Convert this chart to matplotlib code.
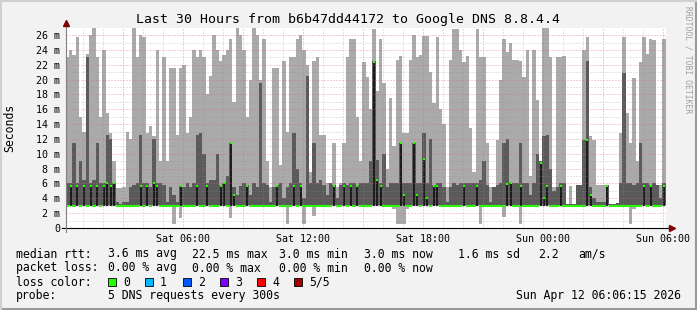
#!/usr/bin/env python
import datetime
import numpy as np
import matplotlib
matplotlib.use("Agg")
import matplotlib.pyplot as plt
from matplotlib.patches import Rectangle

W, H = 697, 310

title = "Last 30 Hours from b6b47dd44172 to Google DNS 8.8.4.4"
start = datetime.datetime(2026, 4, 11, 0, 6, 15)
steps_per_hour = 6   # one value every 10 min

# largest of the 5 pings per step (ms)
ping_max = [
    23, 24, 23.3, 25.8, 15, 13, 23.5, 26, 27, 23, 15, 24, 15.5, 12.8, 9,
    5.4, 5.4, 5.5, 13, 12, 27, 23, 26, 25.8, 12.8, 13.7, 12.4, 24, 9, 23,
    9, 21.5, 21.5, 12.5, 21.5, 22, 12.8, 15, 24, 23, 24, 23, 18, 20.5, 26,
    24, 22.5, 23.3, 24, 25.5, 17, 27, 26, 24, 15, 20, 27, 26, 20, 25.5,
    9, 5.5, 21.5, 21.5, 8.5, 22.5, 13, 23, 23, 25.5, 26, 24, 22, 7.5, 22.5,
    23, 12.5, 12.5, 6, 6, 11.5, 5.5, 6, 11.5, 23, 25.5, 25.5, 15, 9, 22.4,
    20.4, 16, 26.8, 18.5, 25.5, 19.5, 8, 17.5, 11, 22.6, 23.2, 12.8, 12.8, 22.6, 26,
    23, 23.3, 25.9, 25.9, 21, 16.9, 25.8, 16, 14, 5.5, 22.6, 26.8, 26.8, 24, 22.4,
    23.2, 13.5, 7.5, 26.8, 23, 23, 11.5, 5.5, 5.5, 11.9, 20, 25.5, 23.7, 25, 22.6,
    22.6, 22.5, 20.4, 24, 7, 24, 17.3, 9, 27, 27, 23, 5.5, 23, 23, 23.2,
    3.3, 5.7, 3.3, 5.8, 5.8, 24, 25.8, 12.4, 11.9, 5.8, 5.8, 5.8, 5.8, 3.3, 3.3,
    3.3, 12.8, 25.8, 15.5, 11.5, 20.2, 9, 22.4, 25.8, 23.5, 25.5, 25.4, 5.8, 5.8, 25.5,
]

# 4th of the 5 sorted pings (top of the dark smoke)
ping_hi = [
    6, 6, 11.5, 6, 9, 6.5, 23, 6, 6.5, 11.5, 6, 6, 12.5, 12, 6,
    3.5, 3.3, 3.5, 3.5, 5.5, 5.8, 6, 12.5, 6, 6, 5.5, 12, 6, 6, 5.8,
    3.5, 5.5, 4.5, 3.5, 5.7, 5.5, 6, 5.5, 6, 12.5, 12.8, 10, 6, 6.5, 6.5,
    10, 5.8, 6, 7, 11.5, 5.5, 4.5, 5.7, 6, 5.8, 4.5, 6, 5.5, 19.5, 6,
    5.8, 3.5, 5.5, 5.8, 6, 4, 5.5, 6, 12.8, 8, 6, 4, 20.5, 6, 11.5,
    6, 6.5, 5.8, 4.5, 6, 5.8, 4, 5.8, 6, 5.8, 6, 6, 5.8, 6, 6,
    6, 9, 22.5, 9.2, 6, 10, 5.5, 6, 6, 6, 11.5, 6, 6, 6, 11.5,
    6, 6, 12.8, 6, 12, 5.8, 6, 6, 5.5, 3.5, 5.5, 6, 5.8, 6, 6,
    6, 6, 6, 6, 6.5, 9, 5.8, 3.5, 5.5, 5.8, 6, 11.5, 12, 6, 6,
    6, 11.5, 6, 6, 4.5, 6, 10, 9, 12.4, 12.5, 8, 5, 5.5, 6, 6,
    3.2, 3.3, 3.2, 5.8, 5.8, 11.9, 22.5, 5.5, 4, 3.5, 3.5, 3.5, 5.8, 3.3, 3.3,
    3.4, 6, 20.9, 6, 6, 5.8, 6, 11.5, 6, 6, 5.8, 6, 5.8, 4, 6,
]

# median is 3.0 ms except at these steps
median_steps = [1, 3, 5, 7, 9, 11, 12, 13, 14, 22, 24, 26, 27, 34, 39, 42, 46, 47,
                49, 50, 54, 63, 68, 70, 80, 83, 85, 87, 92, 93, 94, 100, 101, 104,
                105, 107, 108, 110, 111, 119, 123, 132, 133, 136, 142, 143, 144,
                148, 156, 157, 162, 173, 175, 179]
median_vals = [5.6, 5.6, 5.6, 5.6, 5.6, 5.6, 6.0, 5.6, 6.0, 5.6, 5.6, 6.0, 5.6, 5.6,
               5.6, 5.6, 5.6, 6.0, 11.5, 4.4, 5.6, 5.6, 5.6, 5.6, 5.6, 5.6, 5.6,
               5.6, 22.4, 6.5, 5.6, 11.5, 4.4, 11.5, 4.5, 9.3, 4.1, 5.6, 5.6, 5.6,
               5.6, 5.9, 6.0, 5.6, 8.8, 4.1, 5.6, 5.6, 11.8, 4.4, 5.6, 5.6, 5.6, 5.6]

# smallest ping is 3.0 ms except at these steps
min_steps = [32, 34, 49, 66, 71, 74, 98, 99, 100, 101, 102, 124, 131, 136, 169, 170]
min_vals = [0.5, 1.3, 1.3, 0.5, 0.5, 1.6, 2.6, 0.5, 0.5, 0.5, 2.6, 0.5, 1.5, 0.5, 0.5, 2.5]

y_ticks = list(range(0, 27, 2))
y_labels = ["0"] + ["%d m" % v for v in y_ticks[1:]]

rtt_items = ["median rtt:", "3.6 ms avg", "22.5 ms max", "3.0 ms min",
             "3.0 ms now", "1.6 ms sd", "2.2", "am/s"]
loss_items = ["packet loss:", "0.00 % avg", "0.00 % max", "0.00 % min", "0.00 % now"]
loss_labels = ["0", "1", "2", "3", "4", "5/5"]
loss_colors = ["#26ff00", "#00b8ff", "#0059ff", "#7e00ff", "#ff0000", "#a10000"]
probe_text = "5 DNS requests every 300s"
stamp = "Sun Apr 12 06:06:15 2026"

plt.rcParams["font.family"] = "DejaVu Sans Mono"

MGRID = dict(color="#e06060", alpha=0.6, lw=0.72, ls=(0, (1, 2)), zorder=4)
GRID = dict(color="#8c8c8c", alpha=0.45, lw=0.72, ls=(0, (1, 2)), zorder=4)


def fx(x):
    return x / W


def fy(y):
    return 1 - y / H


def draw_grid(ax):
    first = 1 - (start.minute * 60 + start.second) / 3600.0
    ticks, labels = [], []
    for k in range(30):
        t = first + k
        when = start + datetime.timedelta(hours=t)
        if when.hour % 3 == 0:
            ax.axvline(t, **MGRID)
        else:
            ax.axvline(t, **GRID)
        if when.hour % 6 == 0:
            ticks.append(t)
            labels.append(when.strftime("%a %H:%M"))
    for v in range(1, 27):
        if v % 2 == 0:
            ax.axhline(v, **MGRID)
        else:
            ax.axhline(v, **GRID)
    return ticks, labels


def main():
    n = len(ping_max)
    hi = np.array(ping_max)
    p4 = np.array(ping_hi)
    med = np.full(n, 3.0)
    med[median_steps] = median_vals
    lo = np.full(n, 3.0)
    lo[min_steps] = min_vals

    fig = plt.figure(figsize=(W / 100, H / 100), dpi=100, facecolor="#f2f2f2")
    ax = fig.add_axes([fx(65.5), fy(228), 600 / W, 200 / H])
    ax.set_xlim(0, 30)
    ax.set_ylim(0, 200 / 7.42)
    ax.set_facecolor("white")
    for s in ax.spines.values():
        s.set_visible(False)

    edges = np.arange(n + 1) / steps_per_hour
    ax.fill_between(edges, np.append(lo, lo[-1]), np.append(hi, hi[-1]),
                    step="post", color="#aaaaaa", lw=0, zorder=1)
    ax.fill_between(edges, 3.1, np.append(p4, p4[-1]),
                    step="post", color="#5a5a5a", lw=0, zorder=2)

    w = 1 / steps_per_hour
    left = edges[:-1]
    flat = med == 3.0
    ax.hlines(med[flat], left[flat], left[flat] + w, color="#26ff00", lw=1.5, zorder=3)
    spike = ~flat
    centers = left[spike] + w / 2
    ax.vlines(centers, 3.0, med[spike], color="#151515", lw=1.3, zorder=3)
    ax.hlines(med[spike], centers - 0.05, centers + 0.05, color="#26ff00", lw=1.5, zorder=5)

    ticks, labels = draw_grid(ax)
    ax.set_xticks(ticks, labels)
    ax.set_yticks(y_ticks, y_labels)
    ax.tick_params(axis="x", length=0, pad=4, labelsize=7.2)
    ax.tick_params(axis="y", length=0, pad=4, labelsize=7.2)

    # axes with arrows
    ax.plot([-0.2, 30.1], [0, 0], color="black", lw=0.8, clip_on=False, zorder=6)
    ax.plot([30.3], [0], marker=">", ms=4, color="#800000", clip_on=False, zorder=6)
    ax.plot([0, 0], [-0.5, 27.4], color="#808080", lw=0.8, clip_on=False, zorder=6)
    ax.plot([0], [27.6], marker="^", ms=4, color="#800000", clip_on=False, zorder=6)

    fig.text(fx(348.5), fy(19), title, ha="center", va="center", fontsize=9.5)
    fig.text(fx(10), fy(128), "Seconds", rotation=90, ha="center", va="center", fontsize=8.3)
    fig.text(fx(688), fy(60), "RRDTOOL / TOBI OETIKER", rotation=-90, ha="center",
             va="center", fontsize=5.8, color="#a0a0a0")

    rtt_x = [16, 107.6, 192.4, 278.7, 364.4, 457.8, 537.8, 578.7]
    for x, s in zip(rtt_x, rtt_items):
        fig.text(fx(x), fy(254), s, ha="left", va="center", fontsize=8.3)
    for x, s in zip(rtt_x, loss_items):
        fig.text(fx(x), fy(268), s, ha="left", va="center", fontsize=8.3)

    fig.text(fx(16), fy(282), "loss color:", ha="left", va="center", fontsize=8.3)
    box_x = [108, 145, 183, 220, 257, 294]
    for x, c, s in zip(box_x, loss_colors, loss_labels):
        fig.add_artist(Rectangle((fx(x), fy(286)), 8 / W, 8 / H, transform=fig.transFigure,
                                 facecolor=c, edgecolor="black", lw=0.6))
        fig.text(fx(x + 15), fy(282), s, ha="left", va="center", fontsize=8.3)

    fig.text(fx(16), fy(296), "probe:", ha="left", va="center", fontsize=8.3)
    fig.text(fx(107.6), fy(296), probe_text, ha="left", va="center", fontsize=8.3)
    fig.text(fx(681), fy(296), stamp, ha="right", va="center", fontsize=8.3)

    # 3d frame round the image
    fig.add_artist(plt.Line2D([0, 1], [fy(309), fy(309)], transform=fig.transFigure, color="#999999", lw=1.5))
    fig.add_artist(plt.Line2D([fx(696), fx(696)], [0, 1], transform=fig.transFigure, color="#999999", lw=1.5))
    fig.add_artist(plt.Line2D([0, 1], [fy(0.5), fy(0.5)], transform=fig.transFigure, color="#d0d0d0", lw=1.5))
    fig.add_artist(plt.Line2D([fx(0.5), fx(0.5)], [0, 1], transform=fig.transFigure, color="#d0d0d0", lw=1.5))

    fig.savefig("out.png", dpi=100, facecolor=fig.get_facecolor())


if __name__ == "__main__":
    main()
